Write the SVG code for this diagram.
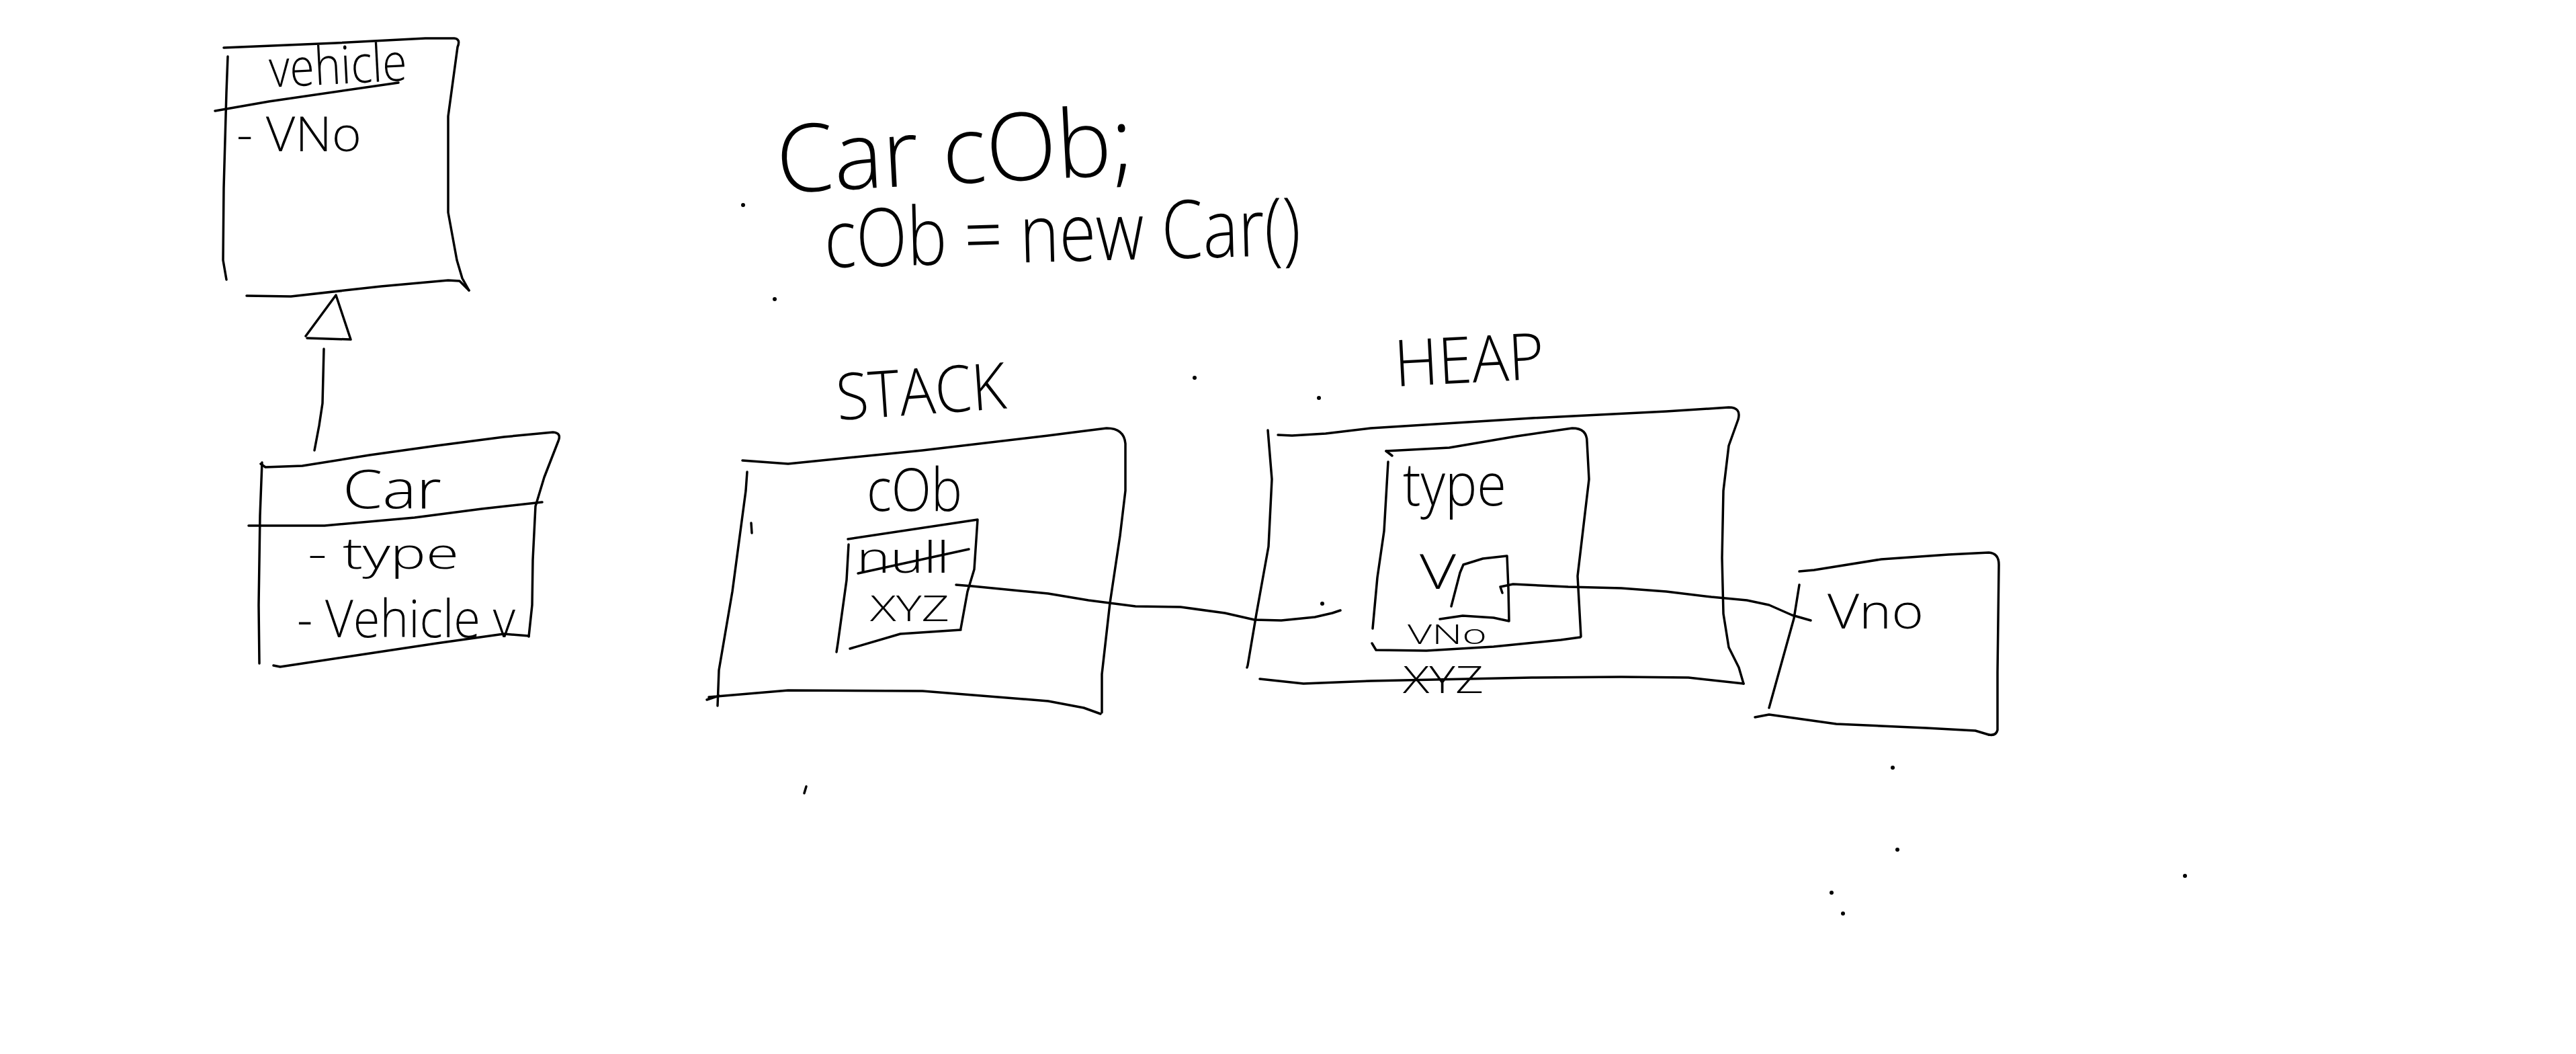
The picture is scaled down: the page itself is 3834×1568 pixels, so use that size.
<svg xmlns="http://www.w3.org/2000/svg" width="3834" height="1568" viewBox="0 0 3834 1568">
<style>
.s{fill:none;stroke:#000;stroke-width:3.5;stroke-linecap:round;stroke-linejoin:round}
.t{font-family:"Open Sans","Liberation Sans",sans-serif;font-weight:300;fill:#000}
.d{fill:#000}
</style>
<rect width="3834" height="1568" fill="#fff"/>
<g id="vehicle">
<path class="s" d="M333,71 L500,64 L633,57 L676,57 Q686,58 681,70 L667,173 L667,316 L680,387 L688,414 L698,432"/>
<path class="s" d="M367,440 L433,441 L567,426 L667,417 L684,418 L698,432"/>
<path class="s" d="M339,84 L337,137 L333,280 L332,387 L337,416"/>
<path class="s" d="M320,165 L400,151 L593,123"/>
<text class="t" x="402" y="130" font-size="78" textLength="205" lengthAdjust="spacingAndGlyphs" transform="rotate(-3 402 130)">vehicle</text>
<text class="t" x="352" y="225" font-size="72" textLength="186" lengthAdjust="spacingAndGlyphs">- VNo</text>
</g>
<g id="car">
<path class="s" d="M388,690 L395,695 L450,693 L550,677 L650,663 L750,650 L823,643 Q836,644 831,656 L810,710 L797,753 L793,833 L792,900 L787,947"/>
<path class="s" d="M407,990 L417,992 L517,977 L650,957 L750,943 L787,946"/>
<path class="s" d="M390,688 L387,767 L385,900 L386,987"/>
<path class="s" d="M370,782 L483,782 L617,770 L717,757 L807,747"/>
<text class="t" x="510" y="756" font-size="80" textLength="147" lengthAdjust="spacingAndGlyphs">Car</text>
<text class="t" x="458" y="846" font-size="64" textLength="225" lengthAdjust="spacingAndGlyphs">- type</text>
<text class="t" x="442" y="948" font-size="78" textLength="325" lengthAdjust="spacingAndGlyphs">- Vehicle v</text>
</g>
<g id="code">
<text class="t" x="1158" y="287" font-size="140" textLength="532" lengthAdjust="spacingAndGlyphs" transform="rotate(-3 1158 287)">Car cOb;</text>
<text class="t" x="1228" y="398" font-size="120" textLength="709" lengthAdjust="spacingAndGlyphs" transform="rotate(-1.5 1228 398)">cOb = new Car()</text>
</g>
<g id="stack">
<text class="t" x="1247" y="625" font-size="96" textLength="253" lengthAdjust="spacingAndGlyphs" transform="rotate(-4 1247 625)">STACK</text>
<path class="s" d="M1105,685 L1173,690 L1373,670 L1560,648 L1607,642 L1647,637 Q1673,637 1675,660 L1675,730 L1667,797 L1652,897 L1640,1003 L1640,1060"/>
<path class="s" d="M1052,1041 L1070,1035 M1055,1037 L1173,1027 L1373,1028 L1560,1043 L1613,1053 L1638,1062"/>
<path class="s" d="M1112,702 L1110,730 L1090,880 L1070,997 L1068,1050"/>
<path class="s" d="M1118,778 L1119,793"/>
</g>
<g id="stack-cob">
<text class="t" x="1290" y="760" font-size="88" textLength="142" lengthAdjust="spacingAndGlyphs">cOb</text>
<path class="s" d="M1262,802 L1455,773 L1450,847 L1440,880 L1430,935"/>
<path class="s" d="M1265,965 L1340,943 L1430,937"/>
<path class="s" d="M1263,810 L1260,863 L1247,957 L1245,970"/>
<text class="t" x="1275" y="852" font-size="64" textLength="138" lengthAdjust="spacingAndGlyphs">null</text>
<path class="s" d="M1277,853 L1442,817"/>
<text class="t" x="1295" y="924" font-size="54" textLength="118" lengthAdjust="spacingAndGlyphs">XYZ</text>
</g>
<g id="heap">
<text class="t" x="2077" y="575" font-size="96" textLength="223" lengthAdjust="spacingAndGlyphs" transform="rotate(-3 2077 575)">HEAP</text>
<path class="s" d="M1902,647 L1923,648 L1973,645 L2040,637 L2280,622 L2480,612 L2573,606 Q2592,606 2587,624 L2573,663 L2565,730 L2563,830 L2565,913 L2573,963 L2588,993 L2595,1017"/>
<path class="s" d="M1875,1010 L1940,1017 L2040,1013 L2280,1008 L2413,1007 L2513,1008 L2595,1017"/>
<path class="s" d="M1887,640 L1893,713 L1888,813 L1870,913 L1857,990 L1856,993"/>
</g>
<g id="heap-object">
<path class="s" d="M2063,671 L2157,666 L2257,649 L2340,637 Q2362,637 2362,657 L2365,713 L2348,857 L2353,947"/>
<path class="s" d="M2042,957 L2048,967 L2123,968 L2223,962 L2323,952 L2352,948"/>
<path class="s" d="M2063,671 L2072,678 M2066,687 L2060,790 L2050,859 L2043,935"/>
<text class="t" x="2088" y="752" font-size="88" textLength="154" lengthAdjust="spacingAndGlyphs">type</text>
<text class="t" x="2095" y="958" font-size="40" textLength="118" lengthAdjust="spacingAndGlyphs">VNo</text>
<text class="t" x="2088" y="1031" font-size="56" textLength="120" lengthAdjust="spacingAndGlyphs">XYZ</text>
</g>
<g id="heap-v">
<text class="t" x="2113" y="876" font-size="72" textLength="54" lengthAdjust="spacingAndGlyphs">V</text>
<path class="s" d="M2160,902 L2173,852 L2178,840 L2207,831 L2243,827 L2245,876 L2246,924 L2223,919 L2177,916 L2143,921"/>
</g>
<g id="vno">
<path class="s" d="M2678,850 L2700,848 L2800,832 L2900,825 L2960,822 Q2975,823 2975,840 L2973,1000 L2973,1086 Q2971,1095 2960,1093"/>
<path class="s" d="M2612,1067 L2633,1063 L2733,1077 L2867,1083 L2940,1087 L2960,1093"/>
<path class="s" d="M2678,870 L2670,920 L2633,1053"/>
<text class="t" x="2720" y="935" font-size="72" textLength="143" lengthAdjust="spacingAndGlyphs">Vno</text>
</g>
<g id="connectors">
<path class="s" d="M482,519 L480,600 L475,633 L468,670"/>
<path class="s" d="M455,500 L500,439 L522,505 L457,503"/>
<path class="s" d="M1423,870 L1447,872 L1560,883 L1620,893 L1690,902 L1757,903 L1823,912 L1867,922 L1907,923 L1957,918 L1983,912 L1995,908"/>
<path class="s" d="M2236,882 L2233,873 L2252,869 L2334,873 L2413,875 L2480,880 L2547,888 L2600,893 L2633,900 L2667,915 L2695,923"/>
</g>
<g id="marks">
<circle class="d" cx="1106" cy="305" r="3"/>
<circle class="d" cx="1153" cy="445" r="3"/>
<circle class="d" cx="1778" cy="562" r="3"/>
<circle class="d" cx="1963" cy="592" r="3"/>
<circle class="d" cx="1968" cy="898" r="3"/>
<path class="s" d="M1200,1170 L1197,1180"/>
<circle class="d" cx="2817" cy="1142" r="3"/>
<circle class="d" cx="2824" cy="1264" r="3"/>
<circle class="d" cx="2726" cy="1328" r="3"/>
<circle class="d" cx="2743" cy="1359" r="3"/>
<circle class="d" cx="3252" cy="1303" r="3"/>
</g>
</svg>
